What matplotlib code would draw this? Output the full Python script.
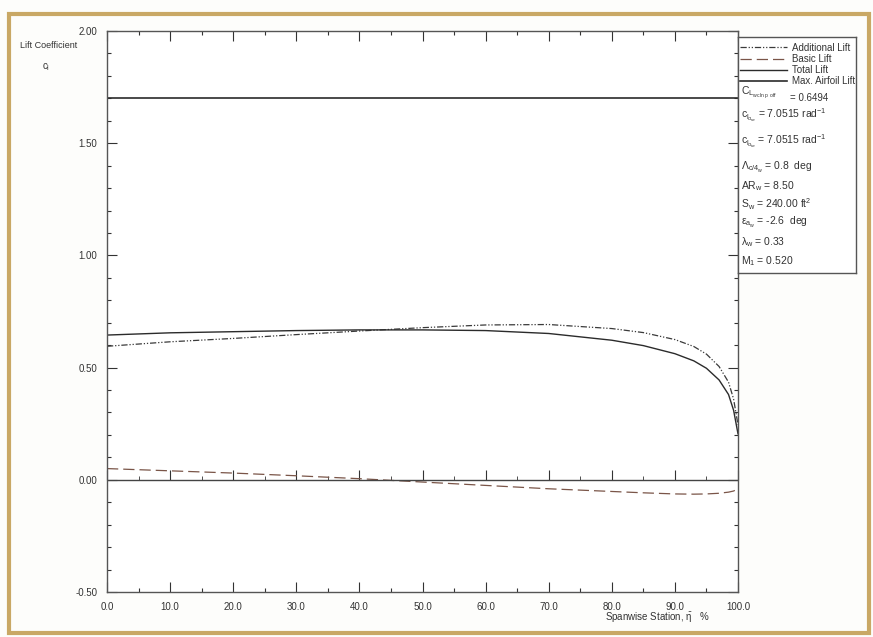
import matplotlib
matplotlib.use("Agg")
import matplotlib.pyplot as plt
from matplotlib.patches import Rectangle
from matplotlib.ticker import MultipleLocator, FormatStrFormatter

plt.rcParams['font.family'] = ['Liberation Sans Narrow', 'Liberation Sans', 'DejaVu Sans']
plt.rcParams['mathtext.fontset'] = 'custom'
plt.rcParams['mathtext.rm'] = 'Liberation Sans'
plt.rcParams['mathtext.it'] = 'Liberation Sans'
plt.rcParams['mathtext.bf'] = 'Liberation Sans'

# spanwise distribution
eta = [0, 10, 20, 30, 40, 50, 60, 70, 80, 85, 90, 93, 95, 97, 98.5, 99.3, 100]
total_lift = [0.645, 0.655, 0.660, 0.665, 0.668, 0.668, 0.665, 0.652, 0.622, 0.598,
              0.562, 0.530, 0.497, 0.445, 0.380, 0.310, 0.205]
basic_lift = [0.050, 0.040, 0.030, 0.018, 0.005, -0.010, -0.025, -0.040, -0.052, -0.058,
              -0.063, -0.064, -0.063, -0.060, -0.055, -0.050, -0.040]
additional_lift = [0.595, 0.615, 0.630, 0.647, 0.663, 0.678, 0.690, 0.692, 0.674, 0.656,
                   0.625, 0.594, 0.560, 0.505, 0.435, 0.360, 0.245]
max_eta = [0, 100]
max_airfoil_lift = [1.70, 1.70]

params = [
    r"$C_{L_{w\,cln\,p.off}}$",
    r"$c_{l_{\alpha_{rw}}}$ = 7.0515 rad$^{-1}$",
    r"$c_{l_{\alpha_{tw}}}$ = 7.0515 rad$^{-1}$",
    r"$\Lambda_{c/4_w}$ = 0.8  deg",
    r"AR$_w$ = 8.50",
    r"S$_w$ = 240.00 ft$^2$",
    r"$\varepsilon_{a_w}$ = -2.6  deg",
    r"$\lambda_w$ = 0.33",
    r"M$_1$ = 0.520",
]
param_y = [93, 115, 141, 167, 186, 204, 222, 242, 261]

W, H = 873, 637
fig = plt.figure(figsize=(W / 100, H / 100), dpi=100)


def px(x, y):
    return x / W, 1 - y / H


# scanned page frame
fig.patches.append(Rectangle(px(9, 633), 860 / W, 619 / H, transform=fig.transFigure,
                             fill=False, edgecolor='#c9a865', linewidth=3))

ax = fig.add_axes([107 / W, 1 - 592 / H, 631 / W, 561 / H])
ink = '#2b2b2b'
ax.plot(eta, additional_lift, color='#3a3a3a', lw=0.9, ls=(0, (5, 1.5, 1, 1.5, 1, 1.5)),
        label='Additional Lift')
ax.plot(eta, basic_lift, color='#7a5548', lw=0.9, ls=(0, (9, 4)), label='Basic Lift')
ax.plot(eta, total_lift, color=ink, lw=1.0, label='Total Lift')
ax.plot(max_eta, max_airfoil_lift, color=ink, lw=1.2, label='Max. Airfoil Lift')
ax.axhline(0, color='#444444', lw=1.0)

ax.set_xlim(0, 100)
ax.set_ylim(-0.5, 2.0)
ax.xaxis.set_major_locator(MultipleLocator(10))
ax.xaxis.set_minor_locator(MultipleLocator(5))
ax.yaxis.set_major_locator(MultipleLocator(0.5))
ax.yaxis.set_minor_locator(MultipleLocator(0.1))
ax.xaxis.set_major_formatter(FormatStrFormatter('%.1f'))
ax.yaxis.set_major_formatter(FormatStrFormatter('%.2f'))
ax.tick_params(which='both', direction='in', top=True, right=True, labelsize=7,
               colors='#333333', width=0.8)
ax.tick_params(which='major', length=7, pad=7)
ax.tick_params(which='minor', length=3)
for s in ax.spines.values():
    s.set_color('#555555')
    s.set_linewidth(1.0)

# tick marks along the zero line
zero_axis = ax.secondary_xaxis(0.2)
zero_axis.xaxis.set_major_locator(MultipleLocator(10))
zero_axis.xaxis.set_minor_locator(MultipleLocator(5))
zero_axis.tick_params(which='both', direction='in', labelbottom=False, color='#333333')
zero_axis.tick_params(which='major', length=7)
zero_axis.tick_params(which='minor', length=3)
zero_axis.spines['bottom'].set_visible(False)

fig.text(*px(20, 45), "Lift Coefficient", fontsize=6.5, va='center', color='#333333')
fig.text(*px(42, 67), r"$c_l$", fontsize=7, va='center', color='#333333')
fig.text(*px(657, 617), r"Spanwise Station, $\bar{\eta}$   %", fontsize=7, ha='center',
         va='center', color='#333333')

# legend / parameter panel
lax = fig.add_axes([738 / W, 1 - 273 / H, 118 / W, 236 / H])
lax.set_xticks([])
lax.set_yticks([])
for s in lax.spines.values():
    s.set_color('#555555')
    s.set_linewidth(1.0)
handles, labels = ax.get_legend_handles_labels()
lax.legend(handles, labels, loc='upper left', bbox_to_anchor=(-0.03, 1.0), frameon=False,
           fontsize=7, handlelength=4.8, handletextpad=0.5, labelspacing=0.12,
           borderaxespad=0.2, labelcolor='#333333')

for t, y in zip(params, param_y):
    fig.text(*px(741, y), t, fontsize=7.5, va='center', color='#333333')
fig.text(*px(790, 98), "= 0.6494", fontsize=7, va='center', color='#333333')

fig.savefig("out.png", dpi=100, facecolor='#fdfdfb')
